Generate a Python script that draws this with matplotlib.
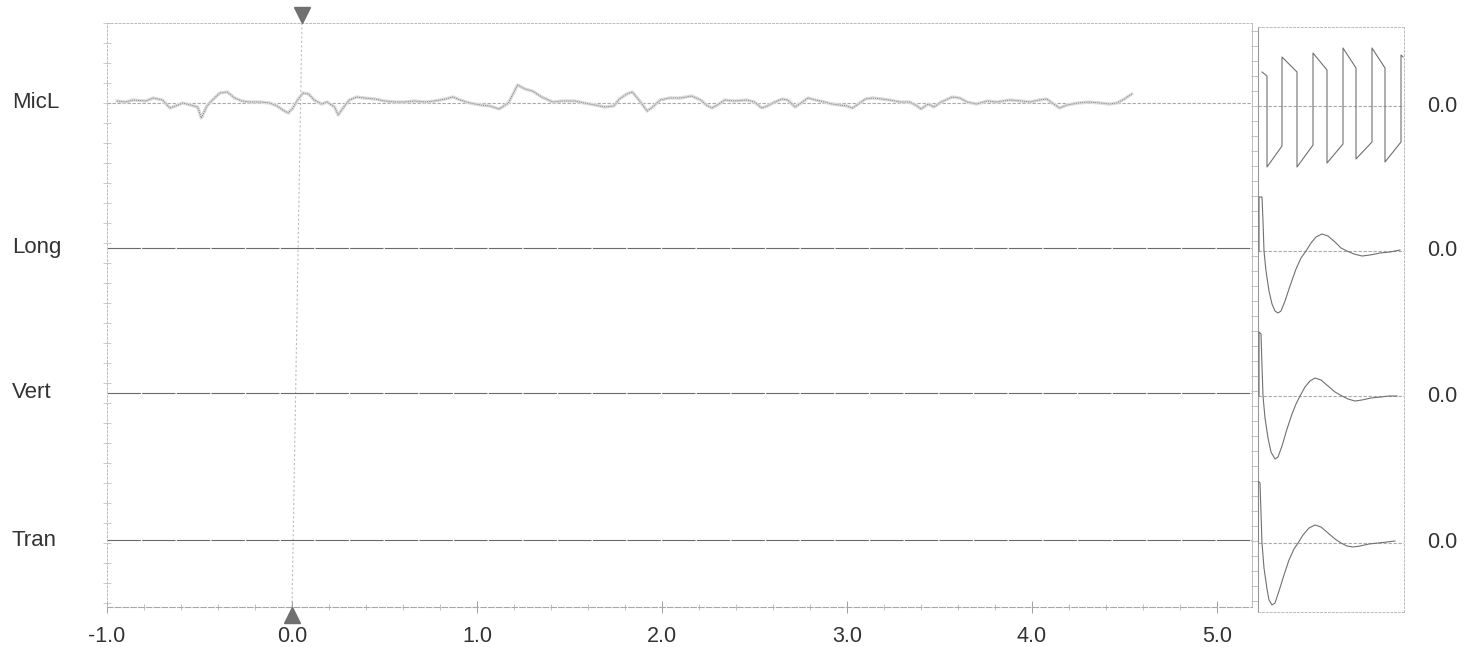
import matplotlib
matplotlib.use("Agg")
import matplotlib.pyplot as plt
import numpy as np
from matplotlib.transforms import blended_transform_factory
from matplotlib.ticker import MultipleLocator, FixedLocator

plt.rcParams["font.family"] = ["Liberation Sans", "DejaVu Sans"]

# ---------------------------------------------------------------- data
channels = ["MicL", "Long", "Vert", "Tran"]
zero_labels = ["0.0", "0.0", "0.0", "0.0"]
x_ticks = [-1.0, 0.0, 1.0, 2.0, 3.0, 4.0, 5.0]
x_tick_labels = ["-1.0", "0.0", "1.0", "2.0", "3.0", "4.0", "5.0"]

# microphone record (time in s, deflection)
micl_t = [-0.946, -0.90, -0.86, -0.79, -0.75, -0.70, -0.66, -0.63, -0.59, -0.55,
          -0.51, -0.49, -0.46, -0.43, -0.39, -0.35, -0.31, -0.27, -0.23, -0.17,
          -0.12, -0.08, -0.05, -0.02, 0.005, 0.03, 0.06, 0.09, 0.12, 0.16,
          0.19, 0.23, 0.25, 0.28, 0.31, 0.35, 0.39, 0.45, 0.50, 0.56,
          0.61, 0.66, 0.72, 0.77, 0.83, 0.87, 0.91, 0.96, 1.02, 1.07,
          1.12, 1.17, 1.22, 1.26, 1.30, 1.35, 1.41, 1.46, 1.53, 1.58,
          1.64, 1.69, 1.74, 1.77, 1.81, 1.84, 1.88, 1.92, 1.95, 1.99,
          2.04, 2.10, 2.16, 2.21, 2.24, 2.27, 2.30, 2.34, 2.39, 2.46,
          2.50, 2.54, 2.57, 2.61, 2.65, 2.68, 2.72, 2.76, 2.79, 2.83,
          2.88, 2.92, 2.96, 3.00, 3.03, 3.07, 3.10, 3.14, 3.19, 3.23,
          3.29, 3.34, 3.38, 3.40, 3.44, 3.47, 3.51, 3.57, 3.61, 3.65,
          3.70, 3.76, 3.81, 3.88, 3.94, 3.99, 4.04, 4.08, 4.11, 4.15,
          4.19, 4.25, 4.31, 4.37, 4.42, 4.46, 4.50, 4.54]
micl_v = [2, 1, 3, 2, 5, 3, -5, -3, 0, -2,
          -4, -15, -3, 3, 10, 11, 5, 2, 1, 1,
          0, -3, -7, -10, -5, 3, 10, 9, 3, -1,
          1, -4, -12, -4, 3, 6, 5, 4, 2, 1,
          1, 2, 1, 2, 4, 6, 3, 0, -2, -3,
          -6, 0, 18, 14, 12, 6, 1, 2, 2, 0,
          -2, -4, -3, 4, 9, 11, 2, -8, -4, 3,
          5, 5, 7, 3, -2, -5, -2, 3, 2, 3,
          1, -5, -3, 1, 4, 3, -4, 1, 5, 3,
          1, -1, -2, -3, -5, 0, 4, 5, 4, 3,
          1, 1, -3, -6, -1, -4, 1, 6, 5, 1,
          -1, 2, 1, 3, 2, 1, 3, 4, 0, -5,
          -2, 0, 1, 0, -1, 0, 4, 9]

# calibration strip (time in ms, deflection)
cal_micl_t = [6, 11, 11, 26, 26, 41, 41, 57, 57, 71, 71, 87, 87, 100, 100,
              116, 116, 129, 129, 145, 145, 147]
cal_micl_v = [34, 30, -61, -40, 49, 34, -61, -39, 53, 36, -57, -38, 58, 38, -53,
              -36, 58, 38, -56, -36, 51, 49]

cal_long_t = [3, 3, 6, 7, 8, 10, 13, 16, 19, 22, 25, 29, 34, 40, 45, 50, 55, 60,
              66, 72, 79, 85, 91, 98, 106, 114, 124, 134, 144]
cal_long_v = [0, 54, 54, 30, 0, -20, -40, -53, -60, -62, -60, -50, -35, -18, -7,
              0, 8, 14, 17, 15, 9, 3, 0, -3, -5, -4, -2, -1, 1]

cal_vert_t = [3, 3, 5, 6, 7, 9, 12, 15, 19, 22, 26, 31, 36, 40, 44, 49, 54, 59,
              65, 72, 79, 86, 92, 99, 106, 115, 125, 133, 141]
cal_vert_v = [0, 64, 62, 30, 0, -22, -42, -56, -63, -61, -50, -33, -18, -8, 0,
              9, 15, 18, 16, 10, 4, 0, -3, -5, -4, -2, -1, 0, 0]

cal_tran_t = [2, 2, 4, 5, 6, 8, 11, 13, 16, 19, 23, 28, 33, 38, 42, 47, 53, 59,
              65, 72, 79, 85, 91, 97, 104, 113, 122, 131, 139]
cal_tran_v = [0, 62, 60, 30, 0, -25, -46, -57, -62, -60, -48, -32, -17, -6, 0,
              8, 15, 18, 16, 10, 4, 0, -3, -4, -3, -1, 0, 1, 2]

# ---------------------------------------------------------------- layout
W, H = 1466, 647
offsets = [0, -145, -290, -437]          # vertical position of each channel
y_lim = (-504, 80)
main_xlim = (-1.0, 5.19)
cal_xlim = (2, 148)

grid_c = "#bcbcbc"
trace_c = "#707070"
text_c = "#333333"

fig = plt.figure(figsize=(W / 100, H / 100), dpi=100)
fig.patch.set_facecolor("white")

def fx(px):
    return px / W

def fy(py):
    return 1 - py / H

ax = fig.add_axes([fx(107), fy(607), fx(1252) - fx(107), fy(23) - fy(607)])
cal = fig.add_axes([fx(1258), fy(612), fx(1404) - fx(1258), fy(27) - fy(612)])

# ---------------------------------------------------------------- main panel
ax.set_xlim(*main_xlim)
ax.set_ylim(*y_lim)

for name in ["top", "left", "right"]:
    ax.spines[name].set_color(grid_c)
    ax.spines[name].set_linewidth(0.7)
ax.spines["top"].set_linestyle((0, (2, 2)))
ax.spines["left"].set_linestyle((0, (2, 2)))
ax.spines["bottom"].set_color("#a8a8a8")
ax.spines["bottom"].set_linewidth(0.8)
ax.spines["bottom"].set_linestyle((0, (5, 2)))

ax.xaxis.set_major_locator(FixedLocator(x_ticks))
ax.set_xticklabels(x_tick_labels)
ax.xaxis.set_minor_locator(MultipleLocator(0.2))
ax.tick_params(axis="x", which="major", direction="inout", length=9, width=0.7,
               color="#a0a0a0", labelsize=15.5, labelcolor=text_c, pad=9)
ax.tick_params(axis="x", which="minor", direction="inout", length=5, width=0.6,
               color="#b8b8b8")
ax.yaxis.set_major_locator(MultipleLocator(20))
ax.tick_params(axis="y", which="major", direction="inout", length=6, width=0.6,
               color="#c4c4c4", labelleft=False)

# zero-time marker line
ax.plot([0.054, 0.0], [y_lim[1], y_lim[0]], color=grid_c, lw=0.8,
        ls=(0, (2, 2)), zorder=1)
ax.plot([0.054], [y_lim[1] + 8], marker="v", ms=11, color="#707070",
        clip_on=False, zorder=5)
ax.plot([0.0], [y_lim[0] - 8], marker="^", ms=11, color="#707070",
        clip_on=False, zorder=5)

# channel baselines
ax.axhline(offsets[0], color="#a8a8a8", lw=0.8, ls=(0, (3, 1.5)), zorder=2)
for off in offsets[1:]:
    ax.axhline(off, color="#6a6a6a", lw=0.8, ls=(0, (30, 1.2)), zorder=2)

# microphone trace with its fuzzy pen stroke
mt = np.array(micl_t)
mv = np.array(micl_v) + offsets[0]
ax.plot(mt, mv, color="#dcdcdc", lw=2.4, solid_joinstyle="round", zorder=3)
ax.plot(mt, mv, color="#8a8a8a", lw=0.7, ls=(0, (1.2, 1.0)), zorder=4)

# channel names and zero values
lab_tf = blended_transform_factory(fig.transFigure, ax.transData)
for name, off in zip(channels, offsets):
    ax.text(fx(12), off, name, transform=lab_tf, ha="left", va="center",
            fontsize=16, color=text_c)
cal_tf = blended_transform_factory(fig.transFigure, cal.transData)
for lab, off in zip(zero_labels, offsets):
    cal.text(fx(1442), off, lab, transform=cal_tf, ha="center", va="center",
             fontsize=15.5, color=text_c)

# ---------------------------------------------------------------- calibration panel
cal.set_xlim(*cal_xlim)
cal.set_ylim(-506, 79)
cal.set_xticks([])
cal.yaxis.set_major_locator(MultipleLocator(15))
cal.tick_params(axis="y", which="major", direction="out", length=5, width=0.6,
                color="#b8b8b8", labelleft=False)
cal.spines["left"].set_color("#999999")
cal.spines["left"].set_linewidth(0.8)
for name in ["top", "right", "bottom"]:
    cal.spines[name].set_color(grid_c)
    cal.spines[name].set_linewidth(0.7)
    cal.spines[name].set_linestyle((0, (2, 2)))
cal.patch.set_alpha(0)

for off in offsets:
    cal.axhline(off, color="#a8a8a8", lw=0.8, ls=(0, (3, 1.5)), zorder=1)

cal_sets = [(cal_micl_t, cal_micl_v), (cal_long_t, cal_long_v),
            (cal_vert_t, cal_vert_v), (cal_tran_t, cal_tran_v)]
for (ct, cv), off in zip(cal_sets, offsets):
    cal.plot(ct, np.array(cv) + off, color=trace_c, lw=0.8, zorder=3)

fig.savefig("out.png", dpi=100, facecolor="white")
